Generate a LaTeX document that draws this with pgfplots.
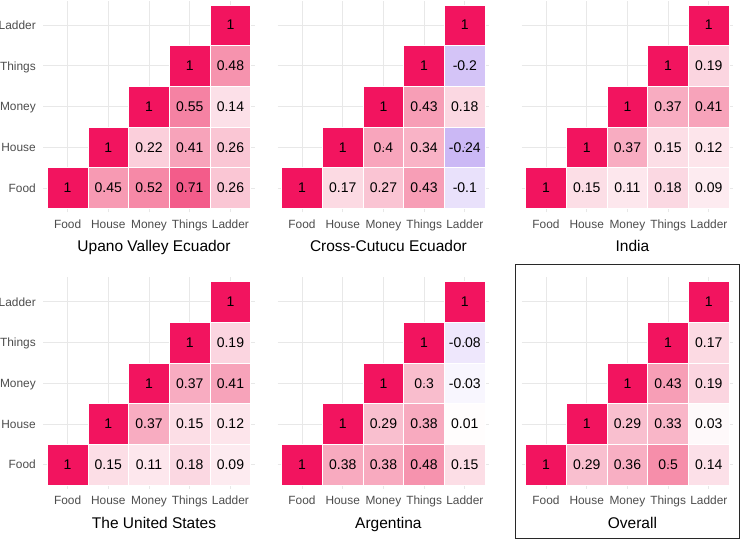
\documentclass[border=0pt]{standalone}
\usepackage{fontspec}
\setmainfont{Liberation Sans}
\usepackage{pgfplots}
\pgfplotsset{compat=1.18}
\definecolor{ticktxt}{RGB}{77,77,77}
\definecolor{gridc}{RGB}{232,232,232}
\definecolor{boxc}{RGB}{40,40,40}
\pgfplotsset{
 colormap={corr}{rgb255=(110,60,220) rgb255=(140,100,230) rgb255=(170,140,238) rgb255=(201,181,245) rgb255=(255,255,255) rgb255=(250,200,214) rgb255=(246,142,170) rgb255=(243,82,132) rgb255=(242,20,95)},
 hm/.style={
  x=40.7pt, y=40.7pt, xmin=-0.6, xmax=4.6, ymin=-0.6, ymax=4.6,
  anchor=south west,
  axis line style={draw=none},
  major tick length=0pt,
  xtick={0,1,2,3,4}, ytick={0,1,2,3,4},
  xticklabels={Food,House,Money,Things,Ladder},
  yticklabels={Food,House,Money,Things,Ladder},
  grid=major,
  major grid style={draw=gridc, line width=0.9pt},
  tick label style={font=\fontsize{11.9}{13}\selectfont, text=ticktxt},
  xticklabel style={anchor=base, inner sep=0pt, yshift=-15.9pt},
  yticklabel style={anchor=base east, inner sep=0pt, xshift=-7.2pt, yshift=-4.2pt},
  xlabel style={at={(axis description cs:0.5,0)}, anchor=base, inner sep=0pt, yshift=-39.5pt, xshift=5pt, font=\fontsize{15.5}{17}\selectfont, text=black},
  colormap name=corr, point meta min=-1, point meta max=1,
  clip=false,
 },
 noy/.style={yticklabels={}},
 tiles/.style={scatter, only marks, mark=square*, mark size=20.35pt,
  scatter src=explicit,
  scatter/use mapped color={draw=white, fill=mapped color, line width=0.6pt},
 },
 labs/.style={only marks, mark=*, mark size=0.1pt, mark options={draw=none, fill=none},
  point meta=explicit,
  nodes near coords={\pgfmathprintnumber[fixed,precision=2,assume math mode=true]{\pgfplotspointmeta}},
  nodes near coords style={anchor=center, font=\fontsize{14}{15}\selectfont, text=black, inner sep=0pt},
 }
}
\pgfplotstableread{
x y v
0 0 1
1 0 0.45
2 0 0.52
3 0 0.71
4 0 0.26
1 1 1
2 1 0.22
3 1 0.41
4 1 0.26
2 2 1
3 2 0.55
4 2 0.14
3 3 1
4 3 0.48
4 4 1
}\upano
\pgfplotstableread{
x y v
0 0 1
1 0 0.17
2 0 0.27
3 0 0.43
4 0 -0.1
1 1 1
2 1 0.4
3 1 0.34
4 1 -0.24
2 2 1
3 2 0.43
4 2 0.18
3 3 1
4 3 -0.2
4 4 1
}\cutucu
\pgfplotstableread{
x y v
0 0 1
1 0 0.15
2 0 0.11
3 0 0.18
4 0 0.09
1 1 1
2 1 0.37
3 1 0.15
4 1 0.12
2 2 1
3 2 0.37
4 2 0.41
3 3 1
4 3 0.19
4 4 1
}\india
\pgfplotstableread{
x y v
0 0 1
1 0 0.15
2 0 0.11
3 0 0.18
4 0 0.09
1 1 1
2 1 0.37
3 1 0.15
4 1 0.12
2 2 1
3 2 0.37
4 2 0.41
3 3 1
4 3 0.19
4 4 1
}\usa
\pgfplotstableread{
x y v
0 0 1
1 0 0.38
2 0 0.38
3 0 0.48
4 0 0.15
1 1 1
2 1 0.29
3 1 0.38
4 1 0.01
2 2 1
3 2 0.3
4 2 -0.03
3 3 1
4 3 -0.08
4 4 1
}\argentina
\pgfplotstableread{
x y v
0 0 1
1 0 0.29
2 0 0.36
3 0 0.5
4 0 0.14
1 1 1
2 1 0.29
3 1 0.33
4 1 0.03
2 2 1
3 2 0.43
4 2 0.19
3 3 1
4 3 0.17
4 4 1
}\overall
\begin{document}
\begin{tikzpicture}
\useasboundingbox (0,0) rectangle (740pt,540pt);
\begin{axis}[hm, at={(43.2pt,327.6pt)}, xlabel={Upano Valley Ecuador}]
\addplot[tiles] table[meta=v] {\upano};
\addplot[labs] table[meta=v] {\upano};
\end{axis}
\begin{axis}[hm, noy, at={(277.6pt,327.6pt)}, xlabel={Cross-Cutucu Ecuador}]
\addplot[tiles] table[meta=v] {\cutucu};
\addplot[labs] table[meta=v] {\cutucu};
\end{axis}
\begin{axis}[hm, noy, at={(521.6pt,327.6pt)}, xlabel={India}]
\addplot[tiles] table[meta=v] {\india};
\addplot[labs] table[meta=v] {\india};
\end{axis}
\begin{axis}[hm, at={(43.2pt,50.9pt)}, xlabel={The United States}]
\addplot[tiles] table[meta=v] {\usa};
\addplot[labs] table[meta=v] {\usa};
\end{axis}
\begin{axis}[hm, noy, at={(277.6pt,50.9pt)}, xlabel={Argentina}]
\addplot[tiles] table[meta=v] {\argentina};
\addplot[labs] table[meta=v] {\argentina};
\end{axis}
\begin{axis}[hm, noy, at={(521.6pt,50.9pt)}, xlabel={Overall}]
\addplot[tiles] table[meta=v] {\overall};
\addplot[labs] table[meta=v] {\overall};
\end{axis}
\draw[boxc, line width=1pt] (515.5pt,1pt) rectangle (739pt,275pt);
\end{tikzpicture}
\end{document}
